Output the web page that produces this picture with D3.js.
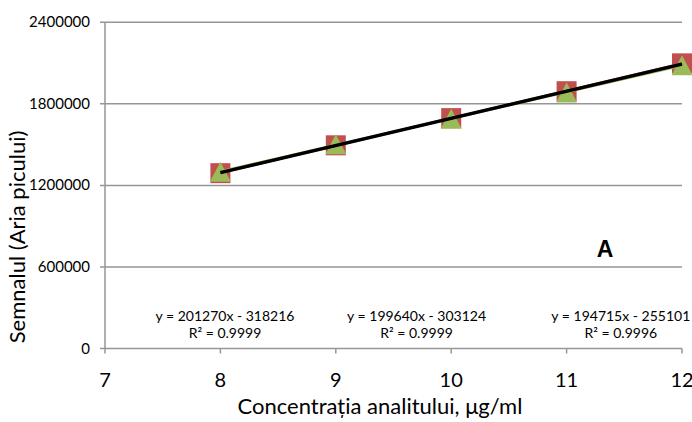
<!DOCTYPE html>
<html>
<head>
<meta charset="utf-8">
<script src="https://cdn.jsdelivr.net/npm/d3@7"></script>
<style>
  body { margin: 0; background: #fff; }
  svg { display: block; font-family: Lato, "Open Sans", sans-serif; }
</style>
</head>
<body>
<svg id="chart" width="692" height="422"></svg>
<script>
// concentrations (x values)
const conc = [8, 9, 10, 11, 12];
// peak areas
const seriesRed = [1290000, 1495000, 1695000, 1893000, 2098000];
const seriesGreen = [1300000, 1502000, 1690000, 1884000, 2084000];
// trendline coefficients (red, black, green)
const slopes = [201270, 199640, 194715];
const intercepts = [-318216, -303124, -255101];
const r2 = ["0.9999", "0.9999", "0.9996"];
const trendColors = ["#C0504D", "#000000", "#9BBB59"];
const labelX = [8.04, 9.7, 11.47];

const xTicks = [7, 8, 9, 10, 11, 12];
const yTicks = [0, 600000, 1200000, 1800000, 2400000];

const svg = d3.select("#chart");

const x = d3.scaleLinear().domain([7, 12]).range([105, 682]);
const y = d3.scaleLinear().domain([0, 2400000]).range([348.5, 22.3]);

// horizontal gridlines
svg.append("g")
  .selectAll("line")
  .data(yTicks)
  .join("line")
  .attr("x1", x(7) - 5)
  .attr("x2", x(12))
  .attr("y1", d => y(d))
  .attr("y2", d => y(d))
  .attr("stroke", "#969696")
  .attr("stroke-width", 1.5);

// y axis line
svg.append("line")
  .attr("x1", x(7)).attr("x2", x(7))
  .attr("y1", y(2400000)).attr("y2", y(0))
  .attr("stroke", "#969696")
  .attr("stroke-width", 1.5);

// x tick marks
svg.append("g")
  .selectAll("line")
  .data(xTicks)
  .join("line")
  .attr("x1", d => x(d)).attr("x2", d => x(d))
  .attr("y1", y(0)).attr("y2", y(0) + 5)
  .attr("stroke", "#969696")
  .attr("stroke-width", 1.5);

// y tick labels
svg.append("g")
  .selectAll("text")
  .data(yTicks)
  .join("text")
  .attr("x", 90)
  .attr("y", d => y(d) + 5)
  .attr("text-anchor", "end")
  .attr("font-size", 15)
  .attr("fill", "#000")
  .text(d => d);

// x tick labels
svg.append("g")
  .selectAll("text")
  .data(xTicks)
  .join("text")
  .attr("x", d => x(d))
  .attr("y", 387)
  .attr("text-anchor", "middle")
  .attr("font-size", 20)
  .text(d => d);

// axis titles
svg.append("text")
  .attr("x", 380)
  .attr("y", 414)
  .attr("text-anchor", "middle")
  .attr("font-size", 22)
  .text("Concentrația analitului, μg/ml");

svg.append("text")
  .attr("transform", "translate(25,237) rotate(-90)")
  .attr("text-anchor", "middle")
  .attr("font-size", 22)
  .text("Semnalul (Aria  picului)");

// markers: red squares
svg.append("g")
  .selectAll("rect")
  .data(conc.map((c, i) => [c, seriesRed[i]]))
  .join("rect")
  .attr("x", d => x(d[0]) - 10)
  .attr("y", d => y(d[1]) - 10)
  .attr("width", 20)
  .attr("height", 20)
  .attr("fill", "#C0504D");

// markers: green triangles
svg.append("g")
  .selectAll("path")
  .data(conc.map((c, i) => [c, seriesGreen[i]]))
  .join("path")
  .attr("d", d => {
    const cx = x(d[0]), cy = y(d[1]);
    return `M${cx},${cy - 10}L${cx + 10.5},${cy + 10}L${cx - 10.5},${cy + 10}Z`;
  })
  .attr("fill", "#9BBB59");

// trendlines
const trendOrder = [0, 2, 1];
svg.append("g")
  .selectAll("line")
  .data(trendOrder)
  .join("line")
  .attr("x1", x(8))
  .attr("x2", x(12))
  .attr("y1", i => y(slopes[i] * 8 + intercepts[i]))
  .attr("y2", i => y(slopes[i] * 12 + intercepts[i]))
  .attr("stroke", i => trendColors[i])
  .attr("stroke-width", i => i === 1 ? 3.5 : 2.5);

// trendline equations
const eq = svg.append("g")
  .selectAll("text")
  .data(slopes.map((s, i) => i))
  .join("text")
  .attr("x", i => x(labelX[i]))
  .attr("text-anchor", "middle")
  .attr("font-size", 14);

eq.append("tspan")
  .attr("x", i => x(labelX[i]))
  .attr("y", 321)
  .text(i => `y = ${slopes[i]}x - ${-intercepts[i]}`);

eq.append("tspan")
  .attr("x", i => x(labelX[i]))
  .attr("y", 338)
  .text(i => `R² = ${r2[i]}`);

// panel letter
svg.append("text")
  .attr("x", 605)
  .attr("y", 257)
  .attr("text-anchor", "middle")
  .attr("font-family", "'Liberation Sans', Arial, sans-serif")
  .attr("font-weight", "bold")
  .attr("font-size", 23)
  .text("A");
</script>
</body>
</html>
